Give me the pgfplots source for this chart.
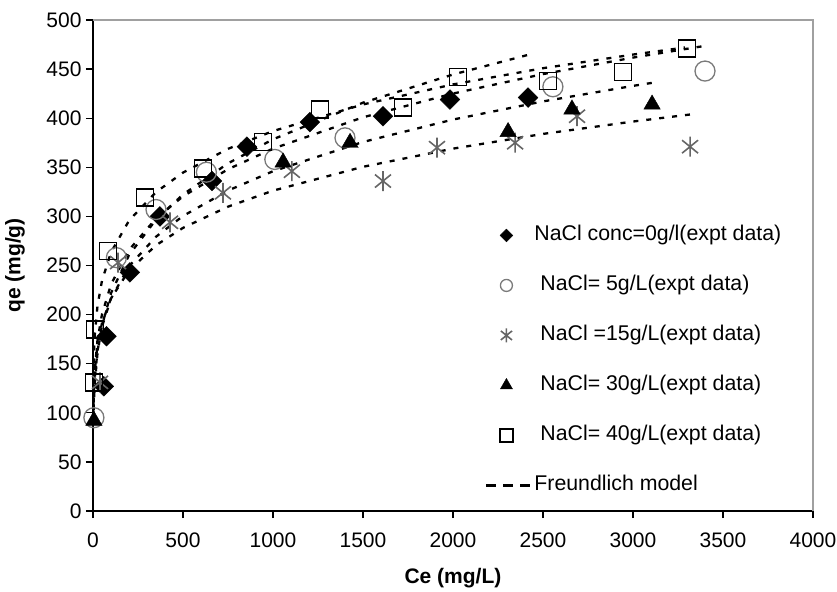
\documentclass[border=0pt]{standalone}
\usepackage{fontspec}
\setmainfont{Liberation Sans}
\usepackage{pgfplots}
\pgfplotsset{compat=1.18}
\definecolor{mgray}{HTML}{7A7A7A}
\definecolor{bgray}{HTML}{A0A0A0}
\pgfdeclareplotmark{zh}{%
  \pgfpathmoveto{\pgfqpoint{0pt}{\pgfplotmarksize}}%
  \pgfpathlineto{\pgfqpoint{0pt}{-\pgfplotmarksize}}%
  \pgfpathmoveto{\pgfqpoint{-.8\pgfplotmarksize}{.65\pgfplotmarksize}}%
  \pgfpathlineto{\pgfqpoint{.8\pgfplotmarksize}{-.65\pgfplotmarksize}}%
  \pgfpathmoveto{\pgfqpoint{-.8\pgfplotmarksize}{-.65\pgfplotmarksize}}%
  \pgfpathlineto{\pgfqpoint{.8\pgfplotmarksize}{.65\pgfplotmarksize}}%
  \pgfusepathqstroke}
\pgfplotsset{
  legmark/.style={legend image code/.code={%
    \path[draw=none, fill=none] (0pt,-7pt) rectangle (44pt,7pt);
    \draw[mark size=#1] plot coordinates {(20pt,0pt)};}},
  fr/.style={black, line width=2.3pt, dash pattern=on 5pt off 8pt, no marks},
}
\begin{document}
\begin{tikzpicture}
\path[use as bounding box] (-93pt,-80pt) rectangle (744pt,511pt);
\begin{axis}[
  name=ax,
  at={(0pt,0pt)}, anchor=south west,
  scale only axis, width=720pt, height=491pt,
  xmin=0, xmax=4000, ymin=0, ymax=500,
  xtick={0,500,...,4000}, ytick={0,50,...,500},
  axis x line*=bottom, axis y line*=left,
  axis line style={line width=1.3pt, black},
  tick align=outside, major tick length=7pt,
  tick style={line width=1.2pt, black},
  scaled ticks=false,
  /pgf/number format/1000 sep={},
  /pgf/number format/assume math mode=true,
  tick label style={font=\fontsize{21}{25}\selectfont},
  xticklabel style={yshift=-11pt},
  yticklabel style={xshift=-1pt},
  xlabel={\textbf{Ce (mg/L)}},
  ylabel={\textbf{qe (mg/g)}},
  label style={font=\fontsize{21}{25}\selectfont},
  xlabel style={at={(axis description cs:0.5,0)}, anchor=center, yshift=-67pt},
  ylabel style={at={(axis description cs:0,0.5)}, anchor=center, yshift=78pt},
  clip=false,
  legend cell align=left,
  legend style={draw=none, fill=none, at={(axis cs:2178,291)}, anchor=north west,
    inner sep=0pt, row sep=30pt, column sep=0pt,
    font=\fontsize{21.3}{25}\selectfont,
    nodes={inner xsep=0pt, inner ysep=0pt, text height=15pt, text depth=5pt}},
  after end axis/.code={\draw[bgray, line width=1.5pt] (rel axis cs:0,1) -- (rel axis cs:1,1) -- (rel axis cs:1,0);},
]
% NaCl 0 g/L
\addplot[only marks, mark=square*, mark size=7pt, mark options={rotate=45, fill=black, draw=black}, legmark=4.5pt]
coordinates {(60,127) (75,178) (205,243) (372,300) (661,336) (855,371) (1205,396) (1611,402) (1983,419) (2417,421)};
\addlegendentry{NaCl conc=0g/l(expt data)}
% NaCl 5 g/L
\addplot[only marks, mark=o, mark size=10pt, mgray, mark options={line width=1.3pt, draw=mgray}, legmark=6pt]
coordinates {(5,95) (130,258) (350,307) (630,345) (1010,358) (1400,380) (2555,432) (3400,448)};
\addlegendentry{\hspace*{6pt}NaCl= 5g/L(expt data)}
% NaCl 15 g/L
\addplot[only marks, mark=zh, mark size=10pt, black!60, mark options={line width=1.6pt}, legmark=7pt]
coordinates {(39,131) (139,253) (428,294) (722,324) (1105,346) (1611,336) (1911,370) (2345,375) (2689,402) (3317,371)};
\addlegendentry{\hspace*{6pt}NaCl =15g/L(expt data)}
% NaCl 30 g/L
\addplot[only marks, mark=triangle*, mark size=9.5pt, mark options={fill=black, draw=black}, legmark=7pt]
coordinates {(5,92) (1056,355) (1428,375) (2306,386) (2661,409) (3106,414)};
\addlegendentry{\hspace*{6pt}NaCl= 30g/L(expt data)}
% NaCl 40 g/L
\addplot[only marks, mark=square, mark size=8.5pt, mark options={line width=1.5pt, draw=black}, legmark=6.5pt]
coordinates {(5,131) (11,185) (83,265) (289,319) (611,349) (944,376) (1261,409) (1722,411) (2028,442) (2528,438) (2945,447) (3300,471)};
\addlegendentry{\hspace*{6pt}NaCl= 40g/L(expt data)}
% Freundlich model curves
\addplot[fr, legend image code/.code={\path[draw=none, fill=none] (0pt,-7pt) rectangle (48pt,7pt); \draw[line width=2.4pt, dash pattern=on 10pt off 7pt] (0pt,0pt) -- (44pt,0pt);}]
coordinates {(2,89.5) (5,110.7) (10,130) (25,160.8) (50,188.9) (100,221.8) (200,260.6) (350,296.7) (500,322.3) (750,354) (1000,378.5) (1500,415.8) (2000,444.5) (2428,465)};
\addlegendentry{Freundlich model}
\addplot[fr, forget plot]
coordinates {(2,137) (5,159.7) (10,179.3) (25,209) (50,234.6) (100,263.4) (200,295.7) (350,324.7) (500,344.6) (750,368.8) (1000,386.9) (1500,414) (2000,434.4) (2500,450.9) (3000,464.8) (3289,472)};
\addplot[fr, forget plot]
coordinates {(2,103.9) (5,125.2) (10,144.2) (25,173.9) (50,200.3) (100,230.7) (200,265.8) (350,297.9) (500,320.4) (750,348) (1000,369) (1500,400.9) (2000,425.1) (2500,444.9) (3000,461.7) (3411,474)};
\addplot[fr, forget plot]
coordinates {(2,97.4) (5,117.4) (10,135.2) (25,163) (50,187.8) (100,216.3) (200,249.2) (350,279.3) (500,300.4) (750,326.3) (1000,346) (1500,375.8) (2000,398.6) (2500,417.1) (3000,432.9) (3106,436)};
\addplot[fr, forget plot]
coordinates {(2,107.9) (5,127) (10,143.7) (25,169.2) (50,191.4) (100,216.5) (200,244.9) (350,270.6) (500,288.3) (750,309.9) (1000,326.2) (1500,350.5) (2000,369) (2500,384) (3000,396.6) (3328,404)};
\end{axis}
\end{tikzpicture}
\end{document}
